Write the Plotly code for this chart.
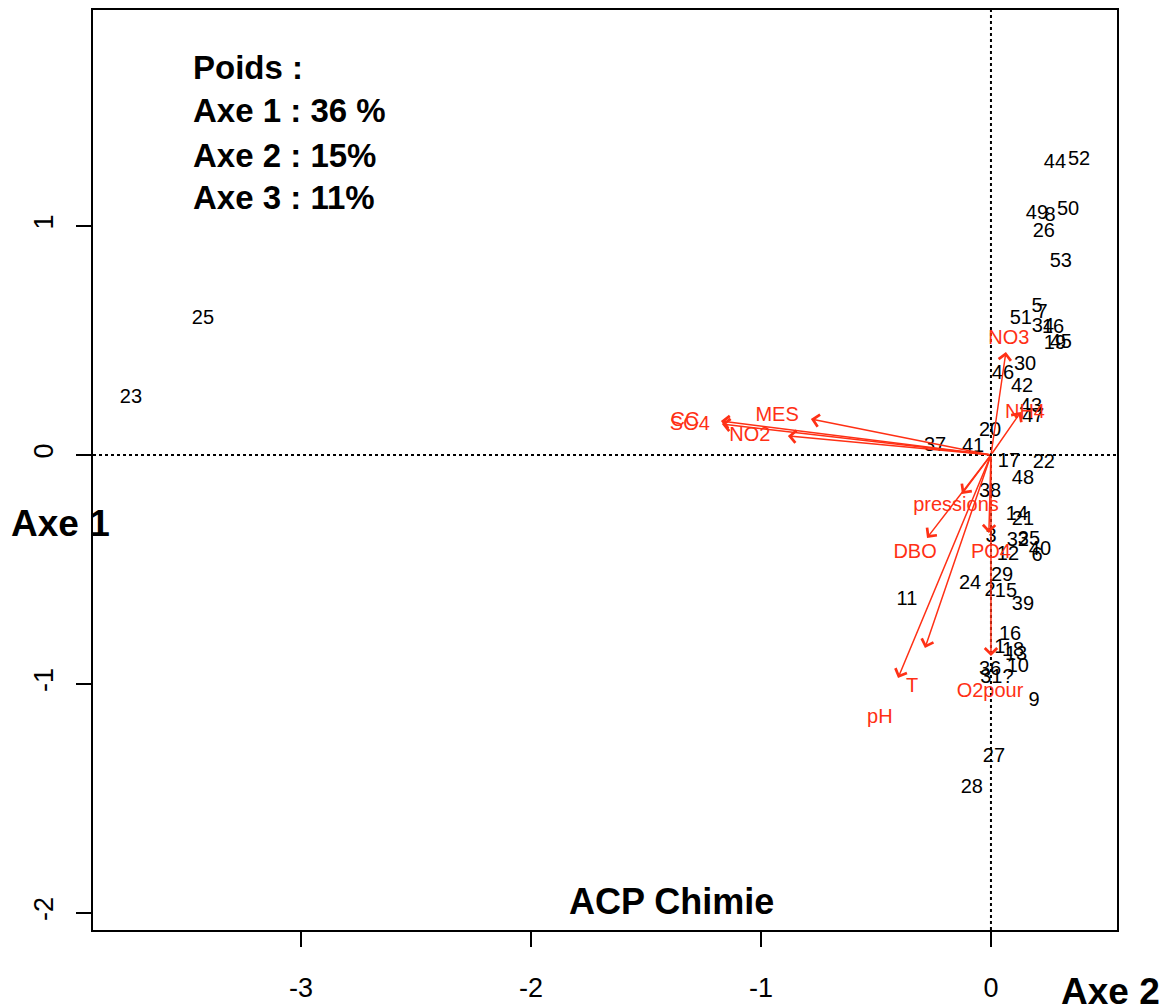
import plotly.graph_objects as go

# Individuals (site scores)
site_labels = ["44", "52", "49", "8", "50", "26", "53", "5", "7", "51", "34", "16", "19", "45",
               "30", "46", "42", "43", "47", "20", "41", "37", "17", "22", "48", "38", "14", "21",
               "3", "32", "35", "40", "6", "12", "29", "24", "2", "15", "39", "11", "16", "1",
               "18", "13", "10", "36", "31?", "9", "27", "28", "25", "23"]
site_x = [0.278, 0.383, 0.200, 0.257, 0.335, 0.230, 0.304, 0.200, 0.222, 0.130, 0.226, 0.270, 0.278, 0.304,
          0.148, 0.052, 0.135, 0.174, 0.183, -0.004, -0.078, -0.243, 0.078, 0.230, 0.139, -0.004, 0.113, 0.139,
          0.000, 0.117, 0.165, 0.213, 0.200, 0.074, 0.048, -0.091, -0.004, 0.065, 0.139, -0.365, 0.083, 0.039,
          0.096, 0.109, 0.117, -0.004, 0.026, 0.187, 0.013, -0.083, -3.426, -3.739]
site_y = [1.275, 1.288, 1.052, 1.044, 1.070, 0.974, 0.843, 0.646, 0.620, 0.594, 0.559, 0.555, 0.485, 0.489,
          0.393, 0.354, 0.297, 0.210, 0.166, 0.105, 0.035, 0.039, -0.031, -0.035, -0.105, -0.162, -0.262, -0.284,
          -0.358, -0.376, -0.371, -0.415, -0.441, -0.437, -0.528, -0.563, -0.594, -0.598, -0.655, -0.633, -0.786, -0.843,
          -0.856, -0.873, -0.926, -0.939, -0.974, -1.074, -1.319, -1.454, 0.594, 0.249]

# Variables (loadings): arrow tips and label positions
var_names = ["CC", "SO4", "MES", "NO2", "NO3", "NH4", "pressions", "DBO", "PO4", "O2pour", "T", "pH"]
arrow_x = [-1.174, -1.170, -0.783, -0.883, 0.065, 0.130, -0.126, -0.278, -0.009, 0.000, -0.287, -0.404]
arrow_y = [0.148, 0.135, 0.157, 0.083, 0.450, 0.188, -0.170, -0.362, -0.341, -0.878, -0.843, -0.974]
label_x = [-1.330, -1.309, -0.930, -1.048, 0.078, 0.148, -0.152, -0.330, 0.000, -0.004, -0.343, -0.483]
label_y = [0.150, 0.131, 0.170, 0.083, 0.507, 0.183, -0.223, -0.428, -0.428, -1.035, -1.013, -1.148]

x_ticks = [-3, -2, -1, 0]
y_ticks = [-2, -1, 0, 1]

RED = "#ff3015"
fig = go.Figure()

# arrow shafts
for ex, ey in zip(arrow_x, arrow_y):
    fig.add_annotation(x=ex, y=ey, ax=0, ay=0, xref="x", yref="y", axref="x", ayref="y",
                       text="", showarrow=True, arrowhead=4, arrowsize=1.6, arrowwidth=1.5,
                       arrowcolor=RED)

fig.add_trace(go.Scatter(x=site_x, y=site_y, mode="text", text=site_labels,
                         textfont=dict(family="Liberation Sans, Arial", size=20, color="black"),
                         hoverinfo="skip", showlegend=False))
fig.add_trace(go.Scatter(x=label_x, y=label_y, mode="text", text=var_names,
                         textfont=dict(family="Liberation Sans, Arial", size=20, color=RED),
                         hoverinfo="skip", showlegend=False))

# dotted reference lines
fig.add_shape(type="line", xref="x", yref="paper", x0=0, x1=0, y0=0, y1=1,
              line=dict(color="black", width=2, dash="dot"), layer="below")
fig.add_shape(type="line", xref="paper", yref="y", x0=0, x1=1, y0=0, y1=0,
              line=dict(color="black", width=2, dash="dot"), layer="below")

bold = dict(family="Liberation Sans Narrow, Arial Narrow, Liberation Sans", color="black")
poids = ["<b>Poids :</b>", "<b>Axe 1 : 36 %</b>", "<b>Axe 2 : 15%</b>", "<b>Axe 3 : 11%</b>"]
poids_y = [0.938, 0.891, 0.842, 0.796]
for t, yy in zip(poids, poids_y):
    fig.add_annotation(x=0.0957, y=yy, xref="paper", yref="paper", text=t, showarrow=False,
                       xanchor="left", yanchor="middle", font=dict(size=33, **bold))
fig.add_annotation(x=0.565, y=0.031, xref="paper", yref="paper", text="<b>ACP Chimie</b>",
                   showarrow=False, xanchor="center", yanchor="middle", font=dict(size=36, **bold))
fig.add_annotation(x=-0.032, y=0.442, xref="paper", yref="paper", text="<b>Axe 1</b>",
                   showarrow=False, xanchor="center", yanchor="middle", font=dict(size=37, **bold))
fig.add_annotation(x=0.994, y=-0.067, xref="paper", yref="paper", text="<b>Axe 2</b>",
                   showarrow=False, xanchor="center", yanchor="middle", font=dict(size=37, **bold))

axis_common = dict(showgrid=False, zeroline=False, showline=True, linecolor="black", linewidth=2,
                   mirror=True, ticks="outside", ticklen=15, tickwidth=1.5, tickcolor="black",
                   automargin=False,
                   tickfont=dict(family="Liberation Sans, Arial", size=27, color="black"))
fig.update_xaxes(range=[-3.904, 0.548], tickvals=x_ticks, ticktext=[str(v) for v in x_ticks],
                 ticklabelstandoff=18, **axis_common)
fig.update_yaxes(range=[-2.074, 1.943], tickvals=y_ticks, ticktext=[str(v) for v in y_ticks],
                 tickangle=-90, ticklabelstandoff=12, **axis_common)

fig.update_layout(width=1172, height=1006, margin=dict(l=93, r=55, t=10, b=76),
                  plot_bgcolor="white", paper_bgcolor="white", showlegend=False)

fig.write_html("out.html")
